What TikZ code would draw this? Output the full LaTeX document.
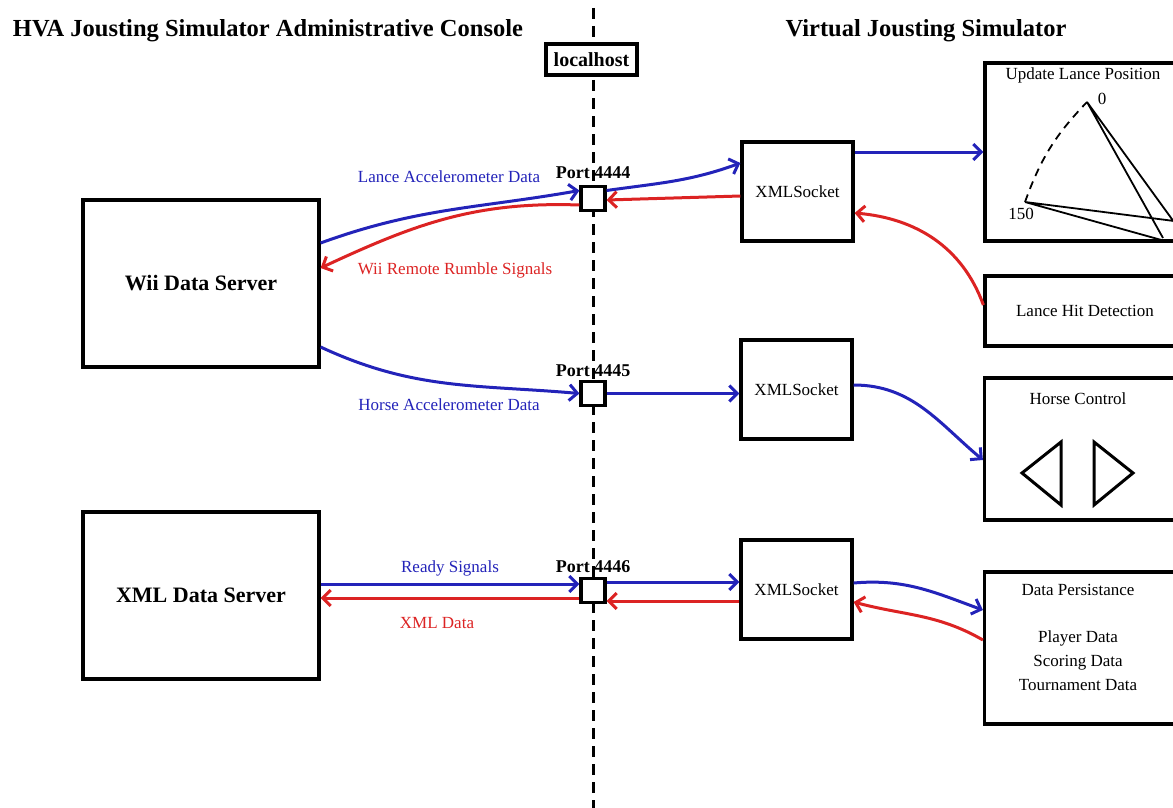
\documentclass[tikz,border=0pt]{standalone}
\usepackage{fontspec}
\setmainfont{Liberation Serif}
\usetikzlibrary{arrows.meta}

\definecolor{wireblue}{RGB}{35,35,185}
\definecolor{wirered}{RGB}{220,35,35}

\tikzset{
  unit/.style={draw, line width=3.2pt, fill=white, inner sep=0pt, font=\fontsize{17}{20}\selectfont},
  server/.style={unit, minimum width=236pt, minimum height=167pt, font=\bfseries\fontsize{22}{26}\selectfont},
  socket/.style={unit, minimum width=111pt, minimum height=99pt},
  port/.style={unit, minimum size=24pt},
  module/.style={unit, minimum width=200pt},
  wire/.style={line width=3pt, -{Straight Barb[length=8pt,width=16pt]}},
  toright/.style={wire, wireblue},
  toleft/.style={wire, wirered},
  note/.style={font=\fontsize{17}{20}\selectfont},
  heading/.style={font=\bfseries\fontsize{24.5}{28}\selectfont},
  portlabel/.style={font=\bfseries\fontsize{18}{20}\selectfont},
}

\begin{document}
\begin{tikzpicture}[x=1pt,y=1pt]
    \useasboundingbox (0,0) rectangle (1173,-808);

    % titles
    \node[heading] (admin) at (268,-31) {HVA Jousting Simulator Administrative Console};
    \node[heading] (sim) at (926,-31) {Virtual Jousting Simulator};

    % localhost divider
    \coordinate (divtop) at (593,-8);
    \coordinate (divbot) at (593,-808);
    \draw[line width=3pt, dash pattern=on 11pt off 7pt] (divtop) -- (divbot);
    \node[unit, minimum width=91pt, minimum height=31pt, font=\bfseries\fontsize{20}{22}\selectfont] (lh) at (591.5,-59.5) {localhost};

    % servers
    \node[server] (wii) at (201,-283.5) {Wii Data Server};
    \node[server] (xds) at (201,-595.5) {XML Data Server};

    % ports
    \node[port] (p1) at (593,-198.5) {};
    \node[port] (p2) at (593,-393.5) {};
    \node[port] (p3) at (593,-590.5) {};
    \node[portlabel] at (593,-173) {Port 4444};
    \node[portlabel] at (593,-371) {Port 4445};
    \node[portlabel] at (593,-567) {Port 4446};

    % sockets
    \node[socket] (xs1) at (797.5,-191.5) {XMLSocket};
    \node[socket] (xs2) at (796.5,-389.5) {XMLSocket};
    \node[socket] (xs3) at (796.5,-589.5) {XMLSocket};

    % simulator modules
    \node[module, minimum height=178pt] (ulp) at (1085,-152) {};
    \node[note] at (1083,-75) {Update Lance Position};
    \node[module, minimum height=70pt] (lhd) at (1085,-311) {Lance Hit Detection};
    \node[module, minimum height=142pt] (hc) at (1084.5,-449) {};
    \node[note] at (1078,-399) {Horse Control};
    \node[module, minimum height=152pt] (dp) at (1084.5,-648) {};
    \node[note] at (1078,-590) {Data Persistance};
    \node[note, align=center, font=\fontsize{17}{24}\selectfont] at (1078,-661) {Player Data\\Scoring Data\\Tournament Data};

    % lance sweep
    \coordinate (lz) at (1087,-102);
    \coordinate (lf) at (1025,-202);
    \draw[line width=1.8pt, dash pattern=on 8pt off 6pt] (lf) to[bend left=12] (lz);
    \draw[line width=1.8pt] (lz) -- (1163,-238) (lz) -- (1182,-233) (lf) -- (1182,-222) (lf) -- (1165,-241);
    \node[note] at (1102,-99) {0};
    \node[note] at (1021,-214) {150};

    % horse arrows
    \draw[line width=3pt, line join=miter] (1022,-473) -- (1061,-442) -- (1061,-505) -- cycle;
    \draw[line width=3pt, line join=miter] (1133,-473) -- (1094,-442) -- (1094,-505) -- cycle;

    % lance channel
    \draw[toright] ([yshift=40.5pt]wii.east) to[out=20,in=190] ([yshift=8pt]p1.west);
    \draw[toleft] ([yshift=-6.5pt]p1.west) to[out=178,in=25] ([yshift=15.5pt]wii.east);
    \draw[toright] ([yshift=8pt]p1.east) to[out=8,in=200] ([yshift=28.5pt]xs1.west);
    \draw[toleft] ([yshift=-4.5pt]xs1.west) -- ([yshift=-1.5pt]p1.east);
    \draw[toright] ([yshift=39.5pt]xs1.east) -- (ulp.west);
    \draw[toleft] ([yshift=6pt]lhd.west) to[out=110,in=-5] ([yshift=-21.5pt]xs1.east);
    \node[note, wireblue] at (449,-177) {Lance Accelerometer Data};
    \node[note, wirered] at (455,-270) {Wii Remote Rumble Signals};

    % horse channel
    \draw[toright] ([yshift=-63.5pt]wii.east) to[out=-25,in=175] (p2.west);
    \draw[toright] (p2.east) -- (p2.east -| xs2.west);
    \draw[toright] ([yshift=4.5pt]xs2.east) to[out=0,in=140] ([yshift=-11pt]hc.west);
    \node[note, wireblue] at (449,-405) {Horse Accelerometer Data};

    % xml channel
    \draw[toright] ([yshift=11.5pt]xds.east) -- ([yshift=6.5pt]p3.west);
    \draw[toleft] ([yshift=-7.5pt]p3.west) -- ([yshift=-2.5pt]xds.east);
    \draw[toright] ([yshift=8.5pt]p3.east) -- ([yshift=7.5pt]xs3.west);
    \draw[toleft] ([yshift=-11.5pt]xs3.west) -- ([yshift=-10.5pt]p3.east);
    \draw[toright] ([yshift=6.5pt]xs3.east) to[out=5,in=160] ([yshift=38pt]dp.west);
    \draw[toleft] ([yshift=8pt]dp.west) to[out=150,in=-15] ([yshift=-12.5pt]xs3.east);
    \node[note, wireblue] at (450,-568) {Ready Signals};
    \node[note, wirered] at (437,-623) {XML Data};
\end{tikzpicture}
\end{document}
